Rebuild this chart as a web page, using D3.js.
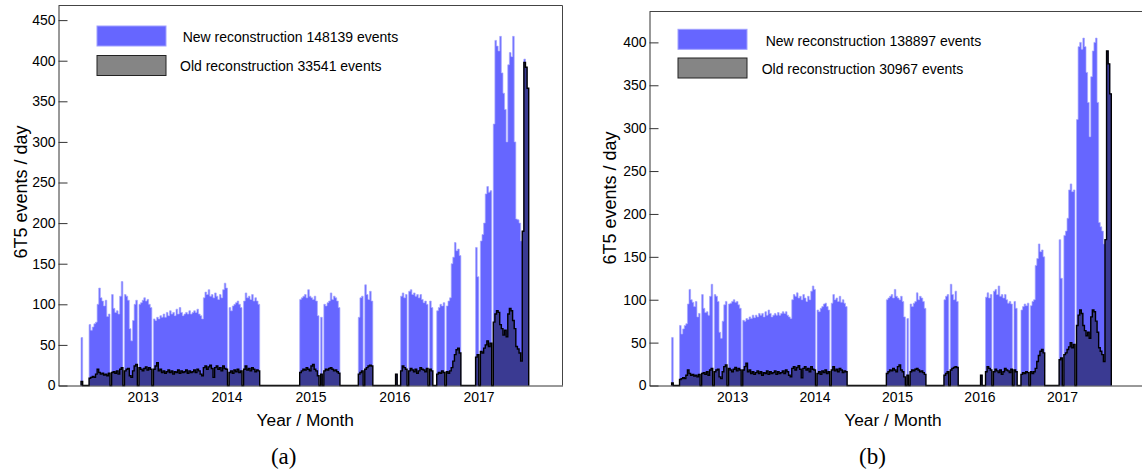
<!DOCTYPE html>
<html><head><meta charset="utf-8">
<script src="https://cdn.jsdelivr.net/npm/d3@7"></script>
<style>
body{margin:0;background:#fff;}
svg{display:block;}
text{font-family:"Liberation Sans",Arial,Helvetica,sans-serif;}
</style>
</head><body>
<svg id="c" width="1142" height="472"></svg>
<script>
// ---------- data (weekly bins, events / day) ----------
const blockStart = ["2012-04-08","2012-05-13","2014-11-15","2015-07-28","2016-01-06","2016-01-28","2016-07-03","2016-12-19"];
const blockWeeks = [1,106,25,9,1,20,15,33];

const newA = [59,
 75,68,72,76,78,100,120,108,104,98, 105,85,88,0,112,95,90,92,88,110, 128,0,112,110,105,70,55,80,100,105, 0,100,102,105,108,104,106,100,96,0,
 82,80,84,82,86,84,88,84,90,86, 92,88,90,86,94,88,96,90,86,88, 90,88,92,88,90,92,90,94,88,86, 82,108,115,112,118,110,112,108,114,110,
 106,112,108,118,126,120,0,96,92,98, 100,102,104,100,96,0,104,114,108,110, 106,112,104,108,104,100,
 106,108,110,112,108,118,110,108,106,110,104,86,0,84,0,100,98,102,104,114,106,110,108,104,96,
 84,108,110,0,124,112,106,116,104,
 14,
 110,114,108,112,0,116,118,112,114,110,112,108,112,106,102,104,100,0,104,96,
 92,96,100,98,102,0,98,104,108,150,158,176,166,168,160,
 170,134,0,178,186,200,236,245,238,240,0,322,425,418,412,430,385,360,340,300,395,410,405,430,300,205,204,200,178,190,402,392,366];

const oldA = [5,
 9,10,11,10,14,20,16,14,15,13, 14,12,15,0,16,17,15,18,14,20, 22,0,18,20,21,12,10,18,24,26, 0,22,20,18,21,23,19,22,20,0,
 20,24,28,18,20,16,18,15,17,19, 16,18,14,17,16,19,15,18,16,17, 19,15,18,16,17,19,16,20,18,14, 12,22,24,20,23,25,21,10,22,24,
 20,22,18,24,21,20,0,16,18,15, 19,17,20,16,18,0,20,24,19,21, 18,22,20,17,19,18,
 16,18,20,19,22,20,18,24,26,20,18,12,0,14,0,18,20,19,21,22,20,18,19,17,15,
 14,16,18,0,20,22,24,25,24,
 14,
 18,24,22,20,0,18,21,19,17,20,15,18,22,20,19,17,21,0,20,18,
 14,16,15,18,16,0,17,15,18,22,30,38,44,46,40,
 35,38,0,42,40,46,50,55,48,52,0,78,88,92,90,75,70,62,68,60,88,95,92,80,70,48,45,40,30,190,398,392,366];

const newB = [56,
 70,60,66,70,72,95,112,100,97,92, 98,80,84,0,106,90,85,86,82,104, 118,0,106,104,98,62,55,75,94,98, 0,95,96,98,100,97,98,94,90,0,
 76,75,78,77,80,78,82,79,82,80, 84,82,84,80,86,82,88,84,80,82, 84,82,85,82,84,86,84,86,82,80, 78,100,106,104,108,102,104,100,106,102,
 98,104,100,110,116,112,0,88,86,90, 92,95,96,92,88,0,96,106,100,102, 98,104,97,100,96,92,
 100,102,104,106,102,112,104,102,100,104,98,80,0,78,0,95,92,96,98,108,100,104,102,98,90,
 100,104,106,0,118,106,100,110,98,
 12,
 103,108,102,106,0,110,112,106,116,104,106,102,106,100,96,98,95,0,98,90,
 88,92,95,93,96,0,93,98,100,140,148,165,156,158,150,
 170,125,0,175,180,195,228,235,226,228,0,310,395,400,392,405,395,365,330,290,360,390,400,405,330,190,185,180,165,170,390,375,340];

const oldB = [3,
 7,8,9,8,12,18,14,12,13,11, 12,10,13,0,14,15,13,16,12,18, 20,0,16,18,19,10,8,16,22,24, 0,20,18,16,19,21,17,20,18,0,
 18,22,26,16,18,14,16,13,15,17, 14,16,12,15,14,17,13,16,14,15, 17,13,16,14,15,17,14,18,16,12, 10,20,22,18,21,23,19,9,20,22,
 18,20,16,22,19,18,0,14,16,13, 17,15,18,14,16,0,18,22,17,19, 16,20,18,15,17,16,
 14,16,18,17,20,18,16,22,24,18,16,10,0,12,0,16,18,17,19,20,18,16,17,15,13,
 12,14,16,0,18,20,21,22,21,
 12,
 16,22,20,18,0,16,19,17,15,18,13,16,20,18,17,15,19,0,18,16,
 13,15,14,16,15,0,16,14,16,20,28,35,40,42,38,
 30,32,0,36,38,42,45,50,44,48,0,70,82,88,84,70,64,58,62,55,80,88,86,75,62,44,40,36,28,170,390,375,340];

const yTicksA = [0,50,100,150,200,250,300,350,400,450];
const yTicksB = [0,50,100,150,200,250,300,350,400];
const xTickYears = ["2013","2014","2015","2016","2017"];
const legendA = ["New reconstruction 148139 events","Old reconstruction 33541 events"];
const legendB = ["New reconstruction 138897 events","Old reconstruction 30967 events"];
const yTitle = "6T5 events / day";
const xTitle = "Year / Month";

// ---------- drawing ----------
const svg = d3.select("#c");
const parse = d3.utcParse("%Y-%m-%d");

function buildBins(nv, ov){
  const bins=[]; let k=0;
  blockStart.forEach((s,b)=>{
    const d0 = parse(s);
    for(let i=0;i<blockWeeks[b];i++){
      bins.push({x0:d3.utcDay.offset(d0,7*i), x1:d3.utcDay.offset(d0,7*(i+1)), n:nv[k], o:ov[k]});
      k++;
    }
  });
  return bins;
}

function stepPoints(bins, key, x, y){
  const pts=[];
  bins.forEach((d,i)=>{
    const prev = bins[i-1];
    if(!prev || +prev.x1 !== +d.x0){
      if(prev) pts.push([x(prev.x1), y(0)]);
      pts.push([x(d.x0), y(0)]);
    }
    pts.push([x(d.x0), y(d[key])]);
    pts.push([x(d.x1), y(d[key])]);
  });
  pts.push([x(bins[bins.length-1].x1), y(0)]);
  return pts;
}

function panel(c){
  const x = d3.scaleUtc().domain([parse("2012-01-01"), parse("2018-01-01")]).range([c.left, c.right]);
  const y = d3.scaleLinear().domain([0, c.ymax]).range([c.bottom, c.top]);
  const bins = buildBins(c.nv, c.ov);
  const g = svg.append("g");
  const line = d3.line();

  // new reconstruction (blue), with light antialiased-looking edges
  const np = stepPoints(bins,"n",x,y);
  g.append("path").attr("d", line(np) + "Z").attr("fill","#6666ff")
    .attr("stroke","#a8a8ff").attr("stroke-width",0.7);
  // old reconstruction (dark dotted fill + black outline)
  const op = stepPoints(bins,"o",x,y);
  g.append("path").attr("d", line(op) + "Z").attr("fill","#3a3a92").attr("stroke","none");
  g.append("path").attr("d", line(op)).attr("fill","none").attr("stroke","#000").attr("stroke-width",1.4);

  // frame
  g.append("path").attr("d", `M${c.left},${c.top}H${c.right}V${c.bottom}`)
    .attr("fill","none").attr("stroke","#444").attr("stroke-width",1);

  // y axis
  const ya = g.append("g").attr("transform",`translate(${c.left},0)`)
    .call(d3.axisLeft(y).tickValues(c.yticks).tickSize(-9).tickSizeOuter(0).tickPadding(3).tickFormat(d3.format("d")));
  ya.select(".domain").attr("stroke","#333");
  ya.selectAll(".tick line").attr("stroke","#333");
  ya.selectAll("text").attr("font-size",14).attr("fill","#000").style("font-family","'Liberation Sans',Arial,sans-serif");

  // x axis
  const xa = g.append("g").attr("transform",`translate(0,${c.bottom})`)
    .call(d3.axisBottom(x).tickValues(xTickYears.map(s=>parse(s+"-01-01"))).tickSize(0).tickPadding(7)
      .tickFormat(d3.utcFormat("%Y")));
  xa.select(".domain").attr("stroke","#333");
  xa.selectAll("text").attr("font-size",14).attr("fill","#000").style("font-family","'Liberation Sans',Arial,sans-serif");

  // titles
  g.append("text").attr("transform",`translate(${c.ytX},${c.ytY}) rotate(-90)`)
    .attr("text-anchor","middle").attr("font-size",18).attr("fill","#000").text(yTitle);
  g.append("text").attr("x",c.xtX).attr("y",425.7).attr("text-anchor","middle")
    .attr("font-size",17.3).attr("fill","#000").text(xTitle);
  g.append("text").attr("x",c.capX).attr("y",464).attr("text-anchor","middle")
    .style("font-family","'Liberation Serif','Times New Roman',serif").attr("font-size",23).attr("fill","#000").text(c.cap);

  // legend
  g.append("rect").attr("x",c.lgX).attr("y",c.lgY1).attr("width",69).attr("height",20)
    .attr("fill","#6666ff").attr("stroke","#a0a0ff").attr("stroke-width",1);
  g.append("rect").attr("x",c.lgX).attr("y",c.lgY2).attr("width",69).attr("height",20)
    .attr("fill","#858585").attr("stroke","#222").attr("stroke-width",1);
  g.append("text").attr("x",c.lgT1).attr("y",c.lgY1+16.3).attr("font-size",14).attr("fill","#000").text(c.leg[0]);
  g.append("text").attr("x",c.lgT2).attr("y",c.lgY2+15.7).attr("font-size",14).attr("fill","#000").text(c.leg[1]);
}

panel({left:58.5, right:562.5, top:5.5, bottom:385.5, ymax:468, nv:newA, ov:oldA, yticks:yTicksA,
  ytX:27, ytY:192, xtX:305.3, capX:283.7, cap:"(a)",
  lgX:97, lgY1:26, lgY2:55.5, lgT1:182.7, lgT2:180, leg:legendA});
panel({left:649.5, right:1144.5, top:11.5, bottom:385.5, ymax:436, nv:newB, ov:oldB, yticks:yTicksB,
  ytX:616, ytY:198, xtX:893, capX:872.5, cap:"(b)",
  lgX:678, lgY1:29.3, lgY2:58, lgT1:765.7, lgT2:761.7, leg:legendB});
</script>
</body></html>
